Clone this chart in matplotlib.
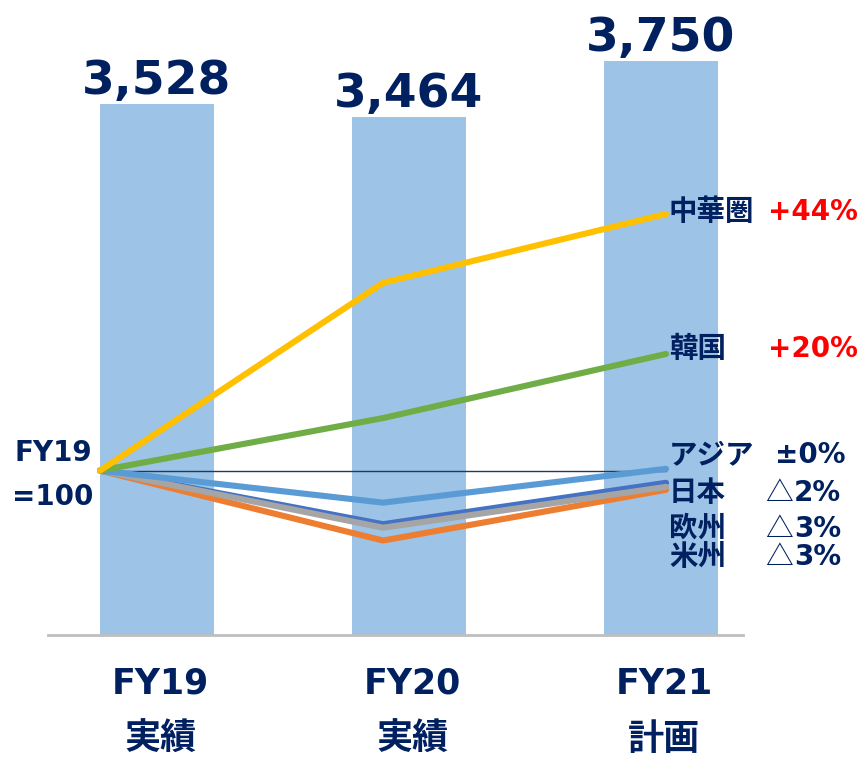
import matplotlib
matplotlib.use("Agg")
import matplotlib.pyplot as plt

plt.rcParams['font.family'] = ['DejaVu Sans', 'Noto Sans CJK JP']

# bar data (totals)
years = ['FY19', 'FY20', 'FY21']
year_sub = ['実績', '実績', '計画']
totals = [3528, 3464, 3750]

# regional index, FY19 = 100
regions = ['中華圏', '韓国', 'アジア', '日本', '欧州', '米州']
idx_china = [100, 132.2, 144]
idx_korea = [100, 109.0, 120]
idx_asia = [100, 94.5, 100.3]
idx_japan = [100, 90.8, 97.9]
idx_europe = [100, 90.2, 97.2]
idx_america = [100, 88.0, 96.7]
base_line = [100, 100, 100]
changes = ['+44%', '+20%', '±0%', '△2%', '△3%', '△3%']

navy = '#002060'
W, H = 862, 758
fig = plt.figure(figsize=(W / 100, H / 100), dpi=100)
rect = [48 / W, (H - 635) / H, 695 / W, 635 / H]

# bars
ax = fig.add_axes(rect)
xb = list(range(len(years)))
ax.bar(xb, totals, width=0.452, color='#9DC3E6', zorder=1)
ax.set_xlim(-0.431, 2.327)
ax.set_ylim(800, 4063)
for s in ['top', 'left', 'right']:
    ax.spines[s].set_visible(False)
ax.spines['bottom'].set_color('#BFBFBF')
ax.spines['bottom'].set_linewidth(2)
ax.set_yticks([])
ax.set_xticks([])
for x, v in zip(xb, totals):
    ax.annotate(f'{v:,}', (x, v), xytext=(0, 7), textcoords='offset points',
                ha='center', va='baseline', fontsize=34, fontweight='bold', color=navy)
tr = ax.get_xaxis_transform()
for x, y1, y2 in zip(xb, years, year_sub):
    ax.text(x + 0.015, -0.077, y1, transform=tr, ha='center', va='center',
            fontsize=25, fontweight='bold', color=navy)
    ax.text(x + 0.015, -0.165, y2, transform=tr, ha='center', va='center',
            fontsize=26, fontweight='bold', color=navy, family='Noto Sans CJK JP')

# index lines
ax2 = fig.add_axes(rect)
ax2.patch.set_visible(False)
ax2.axis('off')
ax2.set_xlim(-0.184, 2.272)
ax2.set_ylim(71.8, 180.7)
xl = [0, 1, 2]
ax2.plot(xl, base_line, color='#1F3864', lw=1.0, zorder=2)
ax2.plot(xl, idx_america, color='#ED7D31', lw=4.4, zorder=3, solid_capstyle='round')
ax2.plot(xl, idx_japan, color='#4472C4', lw=4.4, zorder=4, solid_capstyle='round')
ax2.plot(xl, idx_europe, color='#A5A5A5', lw=4.4, zorder=5, solid_capstyle='round')
ax2.plot(xl, idx_asia, color='#5B9BD5', lw=4.4, zorder=6, solid_capstyle='round')
ax2.plot(xl, idx_korea, color='#70AD47', lw=4.4, zorder=7, solid_capstyle='round')
ax2.plot(xl, idx_china, color='#FFC000', lw=4.4, zorder=8, solid_capstyle='round')

# left note
fig.text(53 / W, 1 - 453 / H, 'FY19', ha='center', va='center',
         fontsize=20, fontweight='bold', color=navy)
fig.text(53 / W, 1 - 497 / H, '=100', ha='center', va='center',
         fontsize=20, fontweight='bold', color=navy)

# right labels
name_y = [212, 349, 455, 493, 529, 557]
for name, ch, py in zip(regions, changes, name_y):
    fig.text(669 / W, 1 - py / H, name, ha='left', va='center', fontsize=20.5,
             fontweight='bold', color=navy, family='Noto Sans CJK JP')
    if ch.startswith('+'):
        fig.text(858 / W, 1 - py / H, ch, ha='right', va='center', fontsize=20,
                 fontweight='bold', color='#FF0000')
    elif ch.startswith('±'):
        fig.text(775 / W, 1 - py / H, ch, ha='left', va='center', fontsize=20,
                 fontweight='bold', color=navy)
    else:
        fig.text(765 / W, 1 - py / H, ch[0], ha='left', va='center', fontsize=20,
                 color=navy, family='Noto Sans CJK JP')
        fig.text(794 / W, 1 - py / H, ch[1:], ha='left', va='center', fontsize=20,
                 fontweight='bold', color=navy)

fig.savefig('out.png', dpi=100)
